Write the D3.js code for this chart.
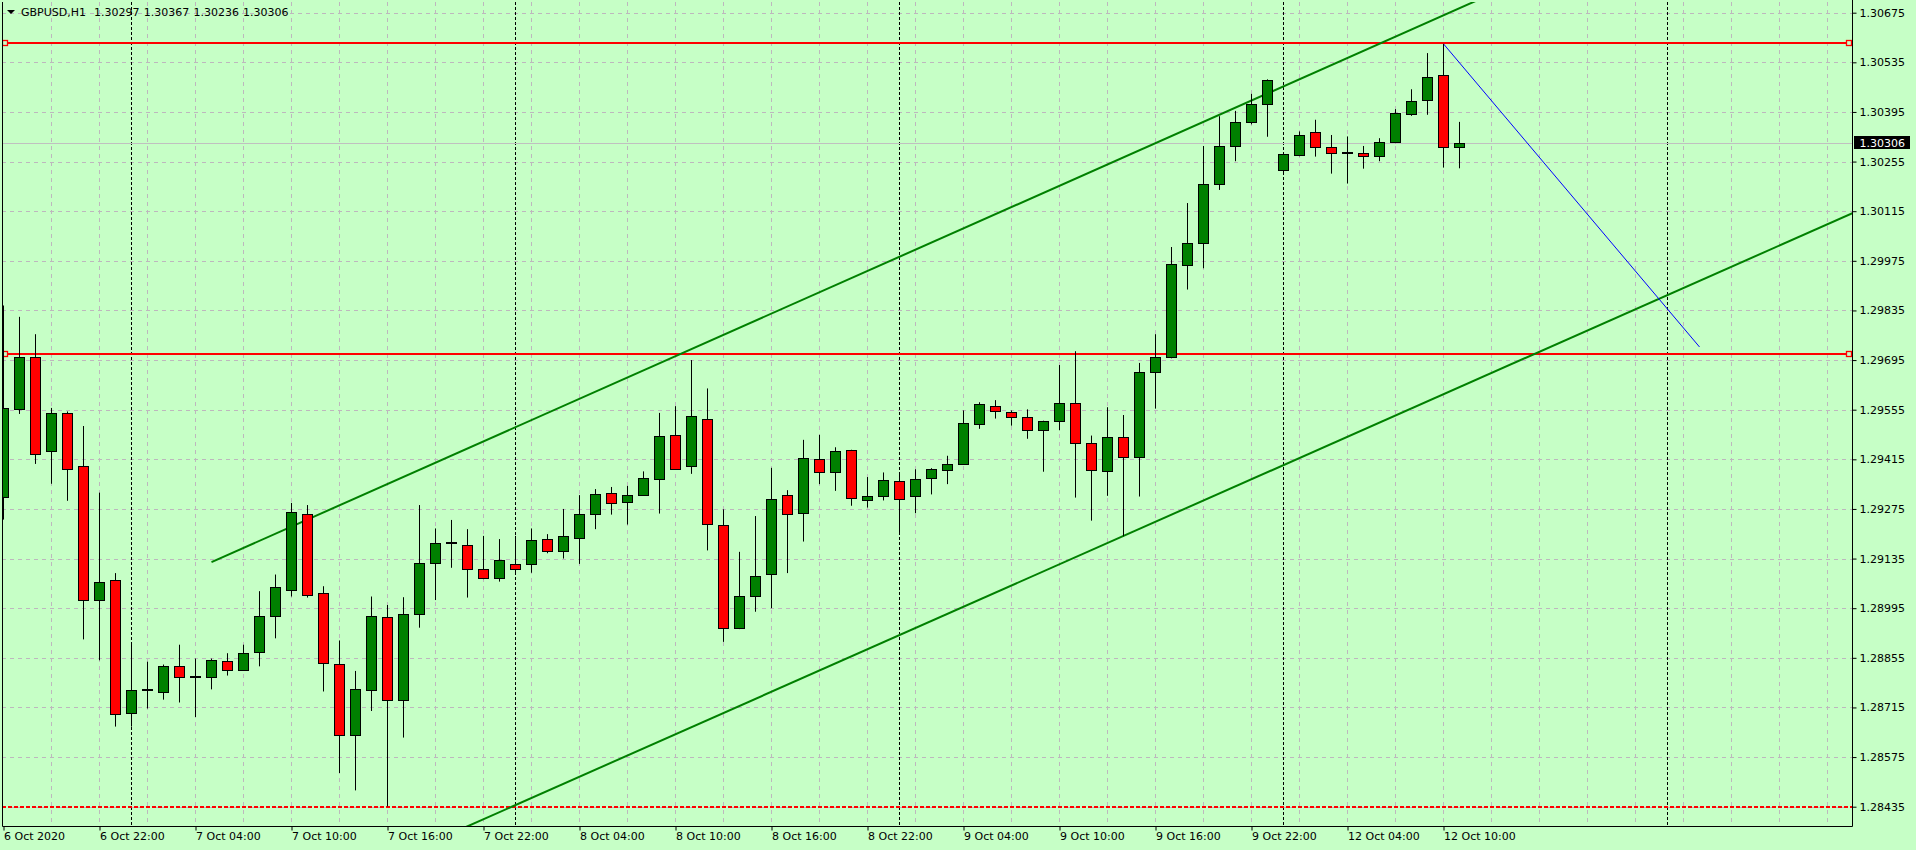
<!DOCTYPE html>
<html>
<head>
<meta charset="utf-8">
<script src="https://cdn.jsdelivr.net/npm/d3@7"></script>
<style>
  html, body { margin: 0; padding: 0; background: #c6ffc6; }
  svg { display: block; font-family: "DejaVu Sans", sans-serif; font-size: 11px; }
</style>
</head>
<body>
<svg id="chart" width="1916" height="850"></svg>
<script>
'use strict';

var symbol = 'GBPUSD,H1'
var lastQuote = ['1.30297', '1.30367', '1.30236', '1.30306']
var bidPrice = 1.30306

// hourly bars, index 0 = 6 Oct 16:00
var opens = [1.29308, 1.29556, 1.29705, 1.29438, 1.29545, 1.29395, 1.29019, 1.29074, 1.28699, 1.28765,
    1.28758, 1.28831, 1.28801, 1.28800, 1.28845, 1.28822, 1.28871, 1.28972, 1.29045, 1.29260,
    1.29037, 1.28837, 1.28637, 1.28764, 1.28969, 1.28737, 1.28978, 1.29122, 1.29178, 1.29172,
    1.29105, 1.29080, 1.29119, 1.29119, 1.29189, 1.29156, 1.29192, 1.29260, 1.29319, 1.29294,
    1.29314, 1.29359, 1.29483, 1.29395, 1.29528, 1.29229, 1.28938, 1.29029, 1.29091, 1.29314,
    1.29263, 1.29415, 1.29378, 1.29440, 1.29299, 1.29311, 1.29353, 1.29311, 1.29362, 1.29384,
    1.29402, 1.29514, 1.29565, 1.29548, 1.29534, 1.29497, 1.29522, 1.29573, 1.29462, 1.29381,
    1.29477, 1.29421, 1.29660, 1.29705, 1.29962, 1.30025, 1.30191, 1.30298, 1.30366, 1.30417,
    1.30230, 1.30273, 1.30338, 1.30295, 1.30279, 1.30280, 1.30272, 1.30309, 1.30390, 1.30430,
    1.30499, 1.30297]
var highs = [1.29849, 1.29817, 1.29768, 1.29560, 1.29550, 1.29509, 1.29321, 1.29094, 1.28894, 1.28844,
    1.28836, 1.28892, 1.28853, 1.28853, 1.28868, 1.28892, 1.29043, 1.29090, 1.29292, 1.29286,
    1.29057, 1.28904, 1.28818, 1.29028, 1.29004, 1.29026, 1.29286, 1.29220, 1.29244, 1.29218,
    1.29199, 1.29190, 1.29199, 1.29220, 1.29204, 1.29275, 1.29314, 1.29331, 1.29337, 1.29340,
    1.29381, 1.29546, 1.29565, 1.29695, 1.29615, 1.29274, 1.29154, 1.29255, 1.29391, 1.29328,
    1.29470, 1.29484, 1.29449, 1.29442, 1.29365, 1.29378, 1.29371, 1.29387, 1.29390, 1.29425,
    1.29553, 1.29576, 1.29582, 1.29553, 1.29556, 1.29524, 1.29681, 1.29720, 1.29482, 1.29562,
    1.29540, 1.29687, 1.29768, 1.30014, 1.30138, 1.30299, 1.30383, 1.30398, 1.30446, 1.30487,
    1.30280, 1.30340, 1.30373, 1.30330, 1.30326, 1.30299, 1.30321, 1.30403, 1.30459, 1.30561,
    1.30587, 1.30367]
var lows = [1.29245, 1.29543, 1.29402, 1.29346, 1.29298, 1.28907, 1.28848, 1.28661, 1.28661, 1.28712,
    1.28737, 1.28729, 1.28688, 1.28766, 1.28805, 1.28820, 1.28831, 1.28910, 1.29028, 1.29025,
    1.28760, 1.28530, 1.28481, 1.28705, 1.28436, 1.28630, 1.28940, 1.29018, 1.29109, 1.29025,
    1.29077, 1.29070, 1.29094, 1.29095, 1.29150, 1.29135, 1.29120, 1.29218, 1.29259, 1.29231,
    1.29312, 1.29262, 1.29385, 1.29374, 1.29158, 1.28900, 1.28936, 1.28985, 1.28995, 1.29094,
    1.29183, 1.29345, 1.29326, 1.29284, 1.29279, 1.29299, 1.29208, 1.29263, 1.29316, 1.29345,
    1.29400, 1.29501, 1.29530, 1.29510, 1.29473, 1.29380, 1.29497, 1.29307, 1.29242, 1.29312,
    1.29198, 1.29310, 1.29558, 1.29700, 1.29894, 1.29954, 1.30175, 1.30256, 1.30360, 1.30325,
    1.30223, 1.30270, 1.30269, 1.30221, 1.30193, 1.30235, 1.30256, 1.30307, 1.30384, 1.30387,
    1.30238, 1.30236]
var closes = [1.29560, 1.29705, 1.29431, 1.29545, 1.29389, 1.29019, 1.29068, 1.28696, 1.28764, 1.28765,
    1.28831, 1.28802, 1.28801, 1.28848, 1.28822, 1.28868, 1.28972, 1.29054, 1.29265, 1.29031,
    1.28840, 1.28637, 1.28766, 1.28972, 1.28737, 1.28978, 1.29122, 1.29178, 1.29178, 1.29106,
    1.29081, 1.29130, 1.29106, 1.29187, 1.29156, 1.29198, 1.29260, 1.29316, 1.29291, 1.29314,
    1.29361, 1.29480, 1.29387, 1.29536, 1.29232, 1.28938, 1.29029, 1.29085, 1.29302, 1.29260,
    1.29418, 1.29378, 1.29438, 1.29305, 1.29311, 1.29356, 1.29302, 1.29359, 1.29387, 1.29402,
    1.29517, 1.29570, 1.29550, 1.29534, 1.29497, 1.29522, 1.29573, 1.29462, 1.29384, 1.29477,
    1.29421, 1.29660, 1.29705, 1.29965, 1.30025, 1.30191, 1.30298, 1.30366, 1.30417, 1.30485,
    1.30276, 1.30330, 1.30295, 1.30278, 1.30279, 1.30272, 1.30309, 1.30391, 1.30425, 1.30493,
    1.30297, 1.30306]

var timeTicks = [0, 6, 12, 18, 24, 30, 36, 42, 48, 54, 60, 66, 72, 78, 84, 90]
var timeLabels = ['6 Oct 2020', '6 Oct 22:00', '7 Oct 04:00', '7 Oct 10:00', '7 Oct 16:00', '7 Oct 22:00',
    '8 Oct 04:00', '8 Oct 10:00', '8 Oct 16:00', '8 Oct 22:00', '9 Oct 04:00', '9 Oct 10:00',
    '9 Oct 16:00', '9 Oct 22:00', '12 Oct 04:00', '12 Oct 10:00']
var daySeparators = [8, 32, 56, 80, 104]
var priceTicks = [1.28435, 1.28575, 1.28715, 1.28855, 1.28995, 1.29135, 1.29275, 1.29415, 1.29555,
    1.29695, 1.29835, 1.29975, 1.30115, 1.30255, 1.30395, 1.30535, 1.30675]

// objects on the chart: [bar, price] anchors
var resistanceLevels = [1.30590, 1.29712]
var supportLevel = 1.28435
var channelUpper = [[13, 1.29125], [70, 1.30267]]
var channelLower = [[13, 1.28060], [70, 1.29199]]
var blueTrend = [[90, 1.30587], [106, 1.29732]]

var W = 1916, H = 850
var pLeft = 2, pTop = 2, pRight = 1852, pBottom = 826
var bg = '#c6ffc6'

var x = d3.scaleLinear().domain([0, 115]).range([3.5, 3.5 + 16 * 115])
var y = d3.scaleLinear().domain([1.28435, 1.30675]).range([806.7, 12.7])
var py = function(p) { return Math.round(y(p)) + 0.5 }

var svg = d3.select('#chart')
svg.append('rect').attr('width', W).attr('height', H).attr('fill', bg)

svg.append('defs').append('clipPath').attr('id', 'plot')
    .append('rect').attr('x', pLeft).attr('y', pTop).attr('width', pRight - pLeft).attr('height', pBottom - pTop)

var plot = svg.append('g').attr('clip-path', 'url(#plot)')

// grid
plot.selectAll('line.hgrid').data(priceTicks).enter().append('line')
    .attr('class', 'hgrid')
    .attr('x1', pLeft).attr('x2', pRight)
    .attr('y1', py).attr('y2', py)
    .attr('stroke', '#bdb7bd').attr('stroke-dasharray', '4,4')

plot.selectAll('line.vgrid').data(d3.range(3, 116, 3)).enter().append('line')
    .attr('class', 'vgrid')
    .attr('x1', x).attr('x2', x)
    .attr('y1', pTop).attr('y2', pBottom)
    .attr('stroke', '#bdb7bd').attr('stroke-dasharray', '4,4')

plot.selectAll('line.daysep').data(daySeparators).enter().append('line')
    .attr('class', 'daysep')
    .attr('x1', x).attr('x2', x)
    .attr('y1', pTop).attr('y2', pBottom)
    .attr('stroke', '#000').attr('stroke-dasharray', '3,2')

// bid line
plot.append('line')
    .attr('x1', pLeft).attr('x2', pRight)
    .attr('y1', py(bidPrice)).attr('y2', py(bidPrice))
    .attr('stroke', '#c0c0c0')

// horizontal levels
plot.append('line')
    .attr('x1', pLeft).attr('x2', pRight)
    .attr('y1', Math.round(y(supportLevel))).attr('y2', Math.round(y(supportLevel)))
    .attr('stroke', '#ff0000').attr('stroke-width', 2).attr('stroke-dasharray', '4,2')

resistanceLevels.forEach(function(p) {
    var yy = Math.round(y(p))
    plot.append('line')
        .attr('x1', 5).attr('x2', pRight - 3)
        .attr('y1', yy).attr('y2', yy)
        .attr('stroke', '#ff0000').attr('stroke-width', 2)
    ;[5, pRight - 3].forEach(function(xx) {
        plot.append('rect')
            .attr('x', xx - 2.5).attr('y', yy - 2.5)
            .attr('width', 5).attr('height', 5)
            .attr('fill', bg).attr('stroke', '#ff0000').attr('stroke-width', 1.3)
    })
})

// trend lines (rays to the right edge)
function ray(pts, toBar) {
    var slope = (pts[1][1] - pts[0][1]) / (pts[1][0] - pts[0][0])
    return [pts[0], [toBar, pts[0][1] + slope * (toBar - pts[0][0])]]
}
var line = d3.line().x(function(d) { return x(d[0]) }).y(function(d) { return y(d[1]) })

;[channelUpper, channelLower].forEach(function(pts) {
    plot.append('path')
        .attr('d', line(ray(pts, 120)))
        .attr('fill', 'none').attr('stroke', '#008000').attr('stroke-width', 2)
})
plot.append('path')
    .attr('d', line(blueTrend))
    .attr('fill', 'none').attr('stroke', '#0000ff').attr('stroke-width', 1)

// candles
var bars = d3.range(opens.length).map(function(i) {
    return { i: i, o: opens[i], h: highs[i], l: lows[i], c: closes[i] }
})

plot.selectAll('line.wick').data(bars).enter().append('line')
    .attr('class', 'wick')
    .attr('x1', function(d) { return x(d.i) }).attr('x2', function(d) { return x(d.i) })
    .attr('y1', function(d) { return y(d.h) }).attr('y2', function(d) { return y(d.l) })
    .attr('stroke', '#000')

plot.selectAll('rect.body').data(bars.filter(function(d) { return d.o !== d.c })).enter().append('rect')
    .attr('class', 'body')
    .attr('x', function(d) { return x(d.i) - 5 })
    .attr('width', 10)
    .attr('y', function(d) { return py(Math.max(d.o, d.c)) })
    .attr('height', function(d) { return Math.max(1, py(Math.min(d.o, d.c)) - py(Math.max(d.o, d.c))) })
    .attr('fill', function(d) { return d.c > d.o ? '#008000' : '#ff0000' })
    .attr('stroke', '#000')

plot.selectAll('line.doji').data(bars.filter(function(d) { return d.o === d.c })).enter().append('line')
    .attr('class', 'doji')
    .attr('x1', function(d) { return x(d.i) - 5.5 }).attr('x2', function(d) { return x(d.i) + 5.5 })
    .attr('y1', function(d) { return Math.round(y(d.c)) }).attr('y2', function(d) { return Math.round(y(d.c)) })
    .attr('stroke', '#000').attr('stroke-width', 2)

// frame
svg.append('path')
    .attr('d', 'M' + (pLeft + 0.5) + ',' + pTop + 'V' + (pBottom + 0.5) + 'H' + (pRight + 0.5) + 'V0')
    .attr('fill', 'none').attr('stroke', '#000')

// axes
var xAxis = d3.axisBottom(x)
    .tickValues(timeTicks)
    .tickFormat(function(d, i) { return timeLabels[i] })
    .tickSize(4).tickPadding(2)
var gx = svg.append('g').attr('transform', 'translate(0,' + (pBottom + 0.5) + ')').call(xAxis)
gx.select('.domain').remove()
gx.selectAll('text').attr('text-anchor', 'start').attr('x', 0).attr('fill', '#000')
gx.selectAll('line').attr('stroke', '#000')

var yAxis = d3.axisRight(y)
    .tickValues(priceTicks)
    .tickFormat(d3.format('.5f'))
    .tickSize(4).tickPadding(3)
var gy = svg.append('g').attr('transform', 'translate(' + (pRight + 0.5) + ',0)').call(yAxis)
gy.select('.domain').remove()
gy.selectAll('line').attr('stroke', '#000')
gy.selectAll('text').attr('fill', '#000')
svg.selectAll('.tick text').style('font-family', '"DejaVu Sans", sans-serif').style('font-size', '11px')

// bid label
var by = Math.round(y(bidPrice))
svg.append('rect')
    .attr('x', pRight + 2).attr('y', by - 7)
    .attr('width', 56).attr('height', 13)
    .attr('fill', '#000')
svg.append('text')
    .attr('x', pRight + 7.5).attr('y', by).attr('dy', '0.35em')
    .attr('fill', '#fff')
    .text(d3.format('.5f')(bidPrice))

// header
svg.append('path').attr('d', 'M7,10 L15,10 L11,14 Z').attr('fill', '#000')
svg.append('text').attr('x', 21).attr('y', 16).text(symbol)
lastQuote.forEach(function(q, i) {
    svg.append('text').attr('x', 94 + i * 49.7).attr('y', 16).text(q)
})
</script>
</body>
</html>
